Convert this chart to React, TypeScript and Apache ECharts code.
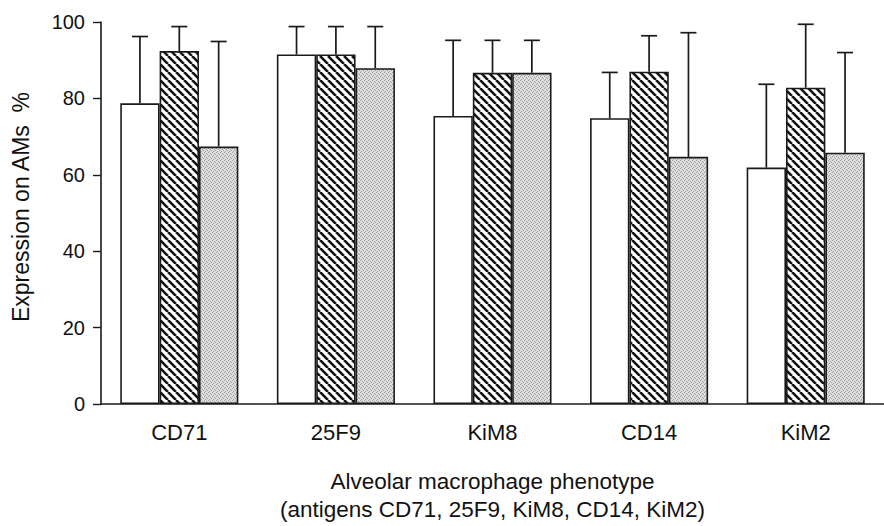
import React, { useEffect, useRef } from 'react';
import * as echarts from 'echarts';

const categories = ['CD71', '25F9', 'KiM8', 'CD14', 'KiM2'];
const openMean = [78.7, 91.5, 75.4, 74.8, 61.9];
const openUpper = [96.2, 98.8, 95.2, 86.8, 83.7];
const hatchedMean = [92.4, 91.5, 86.7, 87.0, 82.8];
const hatchedUpper = [98.8, 98.8, 95.2, 96.4, 99.4];
const dottedMean = [67.4, 87.9, 86.7, 64.7, 65.8];
const dottedUpper = [94.9, 98.8, 95.2, 97.2, 92.0];
const yMin = 0;
const yMax = 100;
const yStep = 20;
const yTitle = 'Expression on AMs  %';
const xTitle = 'Alveolar macrophage phenotype\n(antigens CD71, 25F9, KiM8, CD14, KiM2)';

const GAP = 0.246;
const FONT = "'Liberation Sans', Arial, Helvetica, sans-serif";

function makeHatch() {
  const c = document.createElement('canvas');
  c.width = 8;
  c.height = 8;
  const ctx = c.getContext('2d')!;
  ctx.fillStyle = '#ffffff';
  ctx.fillRect(0, 0, 8, 8);
  ctx.strokeStyle = '#151515';
  ctx.lineWidth = 2.6;
  ctx.beginPath();
  for (const o of [-8, 0, 8]) {
    ctx.moveTo(o, 0);
    ctx.lineTo(o + 8, 8);
  }
  ctx.stroke();
  return c;
}

function makeStipple() {
  const c = document.createElement('canvas');
  c.width = 4;
  c.height = 4;
  const ctx = c.getContext('2d')!;
  ctx.fillStyle = '#dedede';
  ctx.fillRect(0, 0, 4, 4);
  ctx.fillStyle = '#a0a0a0';
  const pts = [[0, 0], [2, 1], [1, 3], [3, 2]];
  pts.forEach(([x, y]) => ctx.fillRect(x, y, 1, 1));
  return c;
}

export default function App() {
  const ref = useRef<HTMLDivElement>(null);
  useEffect(() => {
    if (!ref.current) return;
    const chart = echarts.init(ref.current, null, { renderer: 'svg' });
    const hatch = { image: makeHatch(), repeat: 'repeat', imageWidth: 8, imageHeight: 8 } as any;
    const stipple = { image: makeStipple(), repeat: 'repeat', imageWidth: 4, imageHeight: 4 } as any;
    const means = [openMean, hatchedMean, dottedMean];
    const uppers = [openUpper, hatchedUpper, dottedUpper];
    const errData: number[][] = [];
    uppers.forEach((arr, s) => arr.forEach((u, i) => errData.push([i, means[s][i], u, s])));

    const barBase = {
      type: 'bar',
      barGap: '0%',
      barCategoryGap: GAP * 100 + '%',
      z: 2,
    };

    chart.setOption({
      animation: false,
      backgroundColor: '#ffffff',
      grid: { left: 101, right: 0, top: 22, bottom: 122, outerBoundsMode: 'none' } as any,
      graphic: [
        {
          type: 'text',
          x: 21,
          y: 207,
          rotation: Math.PI / 2,
          style: {
            text: yTitle,
            fill: '#111',
            font: `23px ${FONT}`,
            textAlign: 'center',
            textVerticalAlign: 'middle',
          },
        },
      ],
      xAxis: {
        type: 'category',
        data: categories,
        axisTick: { show: false },
        axisLine: { lineStyle: { color: '#1a1a1a', width: 1.6 } },
        axisLabel: { color: '#111', fontSize: 22, fontFamily: FONT, margin: 17 },
        name: xTitle,
        nameLocation: 'middle',
        nameGap: 63,
        nameTextStyle: { color: '#111', fontSize: 22.5, fontFamily: FONT, lineHeight: 28 },
      },
      yAxis: {
        type: 'value',
        min: yMin,
        max: yMax,
        interval: yStep,
        splitLine: { show: false },
        axisLine: { show: true, lineStyle: { color: '#1a1a1a', width: 1.6 } },
        axisTick: { show: true, length: 8, lineStyle: { color: '#1a1a1a', width: 1.4 } },
        axisLabel: { color: '#111', fontSize: 20, fontFamily: FONT, margin: 16 },
      },
      series: [
        {
          ...barBase,
          name: 'Open',
          data: openMean,
          itemStyle: { color: '#ffffff', borderColor: '#1a1a1a', borderWidth: 1.6 },
        },
        {
          ...barBase,
          name: 'Hatched',
          data: hatchedMean,
          itemStyle: { color: hatch, borderColor: '#1a1a1a', borderWidth: 1.6 },
        },
        {
          ...barBase,
          name: 'Stippled',
          data: dottedMean,
          itemStyle: { color: stipple, borderColor: '#1a1a1a', borderWidth: 1.6 },
        },
        {
          type: 'custom',
          name: 'SD',
          z: 3,
          data: errData,
          encode: { x: 0, y: 2 },
          renderItem: (params: any, api: any) => {
            const ci = api.value(0);
            const mean = api.value(1);
            const up = api.value(2);
            const s = api.value(3);
            const base = api.coord([ci, mean]);
            const top = api.coord([ci, up]);
            const band = api.size([1, 0])[0];
            const bw = (band * (1 - GAP)) / 3;
            const x = base[0] + (s - 1) * bw;
            const st = { stroke: '#1a1a1a', lineWidth: 1.7 };
            return {
              type: 'group',
              children: [
                { type: 'line', shape: { x1: x, y1: base[1], x2: x, y2: top[1] }, style: st },
                { type: 'line', shape: { x1: x - 8, y1: top[1], x2: x + 8, y2: top[1] }, style: st },
              ],
            };
          },
        },
      ],
    } as any);
    return () => chart.dispose();
  }, []);
  return (
    <div
      ref={ref}
      style={{ position: 'absolute', left: 0, top: 0, width: 884, height: 526 }}
    />
  );
}
